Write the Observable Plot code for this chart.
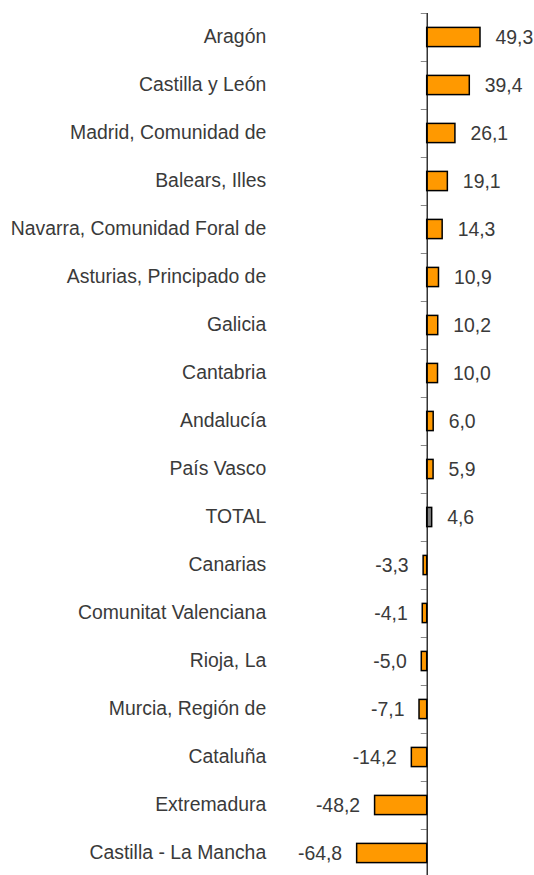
<!DOCTYPE html>
<html>
<head>
<meta charset="utf-8">
<script src="https://cdn.jsdelivr.net/npm/d3@7"></script>
<script src="https://cdn.jsdelivr.net/npm/@observablehq/plot@0.6"></script>
<style>
  html, body { margin: 0; padding: 0; background: #fff; }
</style>
</head>
<body>
<div id="chart"></div>
<script>
const regions = [
  "Aragón", "Castilla y León", "Madrid, Comunidad de", "Balears, Illes",
  "Navarra, Comunidad Foral de", "Asturias, Principado de", "Galicia", "Cantabria",
  "Andalucía", "País Vasco", "TOTAL", "Canarias", "Comunitat Valenciana",
  "Rioja, La", "Murcia, Región de", "Cataluña", "Extremadura", "Castilla - La Mancha"
];
const values = [
  49.3, 39.4, 26.1, 19.1, 14.3, 10.9, 10.2, 10.0, 6.0, 5.9, 4.6,
  -3.3, -4.1, -5.0, -7.1, -14.2, -48.2, -64.8
];
const totalLabel = "TOTAL";

const data = regions.map((r, i) => ({region: r, value: values[i]}));
const fmt = v => v.toFixed(1).replace(".", ",");

const chart = Plot.plot({
  width: 534,
  height: 875,
  marginTop: 13,
  marginBottom: 0,
  marginLeft: 0,
  marginRight: 0,
  style: {fontFamily: "'Liberation Sans', Arial, sans-serif", fontSize: "19.4px", background: "#fff"},
  x: {domain: [0, 49.3], range: [426.7, 480], axis: null},
  y: {domain: regions, range: [13, 877], padding: 0, axis: null},
  marks: [
    Plot.ruleY(regions, {y: d => d, x1: -5.5, x2: 0, dy: -24, stroke: "#888", strokeWidth: 1}),
    Plot.barX(data, {
      x: "value", y: "region",
      insetTop: 14.4, insetBottom: 14.4,
      fill: d => d.region === totalLabel ? "#808080" : "#FF9900",
      stroke: "#000", strokeWidth: 1.5
    }),
    Plot.ruleX([0], {stroke: "#000", strokeWidth: 1.2}),
    Plot.text(data, {
      x: 0, y: "region", text: "region", dx: -161, dy: -1, textAnchor: "end",
      fill: "#3a3a3a", fontSize: 19.4
    }),
    Plot.text(data.filter(d => d.value >= 0), {
      x: "value", y: "region", text: d => fmt(d.value), dx: 15, textAnchor: "start",
      fill: "#3a3a3a", fontSize: 19.4
    }),
    Plot.text(data.filter(d => d.value < 0), {
      x: "value", y: "region", text: d => fmt(d.value), dx: -15, textAnchor: "end",
      fill: "#3a3a3a", fontSize: 19.4
    })
  ]
});
document.getElementById("chart").appendChild(chart);
</script>
</body>
</html>
